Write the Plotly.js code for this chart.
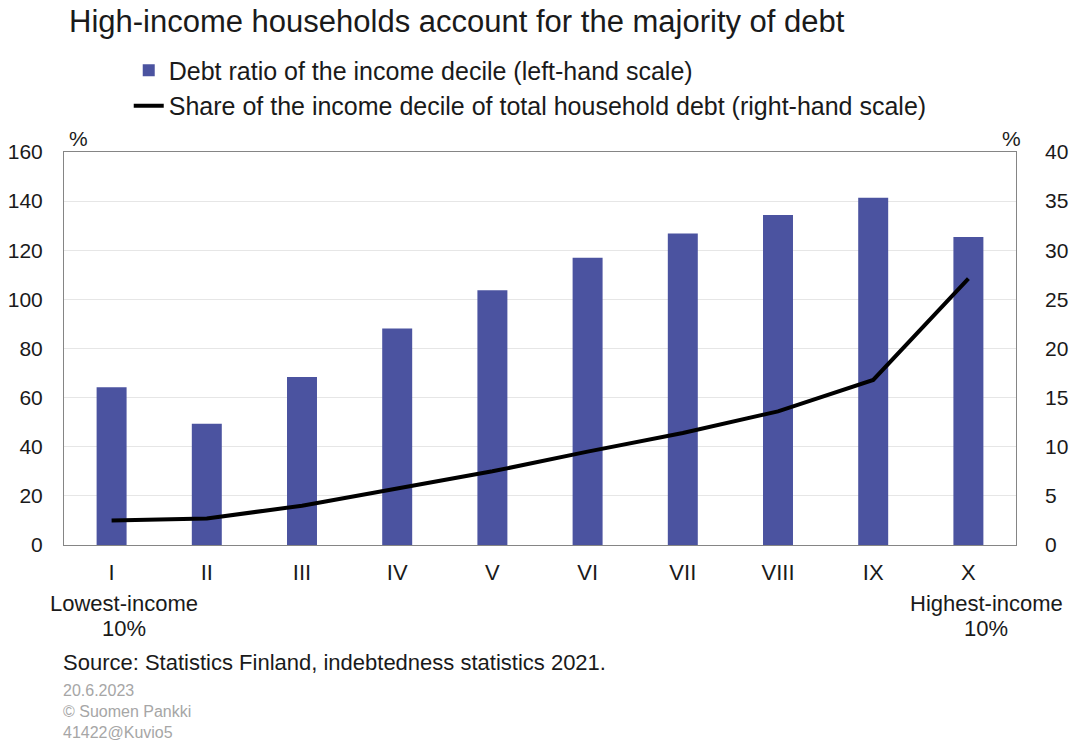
<!DOCTYPE html>
<html>
<head>
<meta charset="utf-8">
<script src="https://cdn.plot.ly/plotly-3.0.1.min.js"></script>
<style>html,body{margin:0;padding:0;background:#fff;}#chart{width:1075px;height:742px;}</style>
</head>
<body>
<div id="chart"></div>
<script>
const deciles = ["I","II","III","IV","V","VI","VII","VIII","IX","X"];
const debtRatio = [64.2, 49.4, 68.4, 88.1, 103.7, 116.9, 126.8, 134.4, 141.4, 125.4];
const debtShare = [2.5, 2.7, 4.0, 5.7, 7.5, 9.5, 11.4, 13.6, 16.8, 27.1];
const seriesNames = [
  "Debt ratio of the income decile (left-hand scale)",
  "Share of the income decile of total household debt (right-hand scale)"
];
const titleText = "High-income households account for the majority of debt";
const lowLabel = ["Lowest-income", "10%"];
const highLabel = ["Highest-income", "10%"];
const sourceText = "Source: Statistics Finland, indebtedness statistics 2021.";
const footerLines = ["20.6.2023", "© Suomen Pankki", "41422@Kuvio5"];

const FONT = "Liberation Sans, Arial, sans-serif";
const txt = "#1a1a1a";

const traces = [
  {
    type: "bar", x: deciles, y: debtRatio, name: seriesNames[0],
    marker: {color: "#4b53a0"}, yaxis: "y", legendgroup: "a",
    hoverinfo: "skip"
  },
  {
    type: "scatter", mode: "lines", x: deciles, y: debtShare, name: seriesNames[1],
    line: {color: "#000000", width: 4}, yaxis: "y2", legendgroup: "b",
    hoverinfo: "skip"
  }
];

function note(text, x, y, xa, size, color) {
  return {text: text, xref: "paper", yref: "paper", x: x, y: y, xanchor: xa, yanchor: "middle",
          showarrow: false, font: {family: FONT, size: size, color: color || txt}};
}

const annotations = [
  note(titleText, 0.003, 1.331, "left", 31),
  {text: "%", xref: "paper", yref: "paper", x: 0.003, y: 1.0, xanchor: "left", yanchor: "bottom", showarrow: false, font: {family: FONT, size: 21, color: txt}},
  {text: "%", xref: "paper", yref: "paper", x: 1.007, y: 1.0, xanchor: "right", yanchor: "bottom", showarrow: false, font: {family: FONT, size: 21, color: txt}},
  note(lowLabel[0], 0.063, -0.148, "center", 22),
  note(lowLabel[1], 0.063, -0.212, "center", 22),
  note(highLabel[0], 0.969, -0.148, "center", 22),
  note(highLabel[1], 0.969, -0.212, "center", 22),
  note(sourceText, -0.003, -0.298, "left", 22),
  {text: footerLines.join("<br>"), xref: "paper", yref: "paper", x: -0.003, y: -0.343, xanchor: "left", yanchor: "top", showarrow: false, align: "left", font: {family: FONT, size: 16, color: "#a6a6a6"}}
];

const layout = {
  width: 1075, height: 742,
  margin: {l: 64, r: 59, t: 152, b: 197},
  paper_bgcolor: "#ffffff", plot_bgcolor: "#ffffff",
  font: {family: FONT, size: 21, color: txt},
  showlegend: true,
  legend: {x: 0.068, y: 1.266, xanchor: "left", yanchor: "top", bgcolor: "rgba(0,0,0,0)", font: {family: FONT, size: 25, color: txt}, traceorder: "grouped", tracegroupgap: 0, itemwidth: 30},
  bargap: 0.685,
  xaxis: {
    type: "category", showline: true, mirror: true, linecolor: "#858585", linewidth: 1,
    ticks: "", ticklabelstandoff: 8, tickfont: {family: FONT, size: 22, color: txt}, showgrid: false, fixedrange: true
  },
  yaxis: {
    range: [0, 160], dtick: 20, showline: true, mirror: true, linecolor: "#858585", linewidth: 1,
    gridcolor: "#e6e6e6", gridwidth: 1, zeroline: false, ticks: "", ticklabelstandoff: 16,
    tickfont: {family: FONT, size: 21, color: txt}, fixedrange: true
  },
  yaxis2: {
    range: [0, 40], dtick: 5, overlaying: "y", side: "right", showgrid: false, zeroline: false,
    showline: false, ticks: "", ticklabelstandoff: 28, tickfont: {family: FONT, size: 21, color: txt}, fixedrange: true
  },
  annotations: annotations
};

Plotly.newPlot("chart", traces, layout, {displayModeBar: false, staticPlot: true});
</script>
</body>
</html>
